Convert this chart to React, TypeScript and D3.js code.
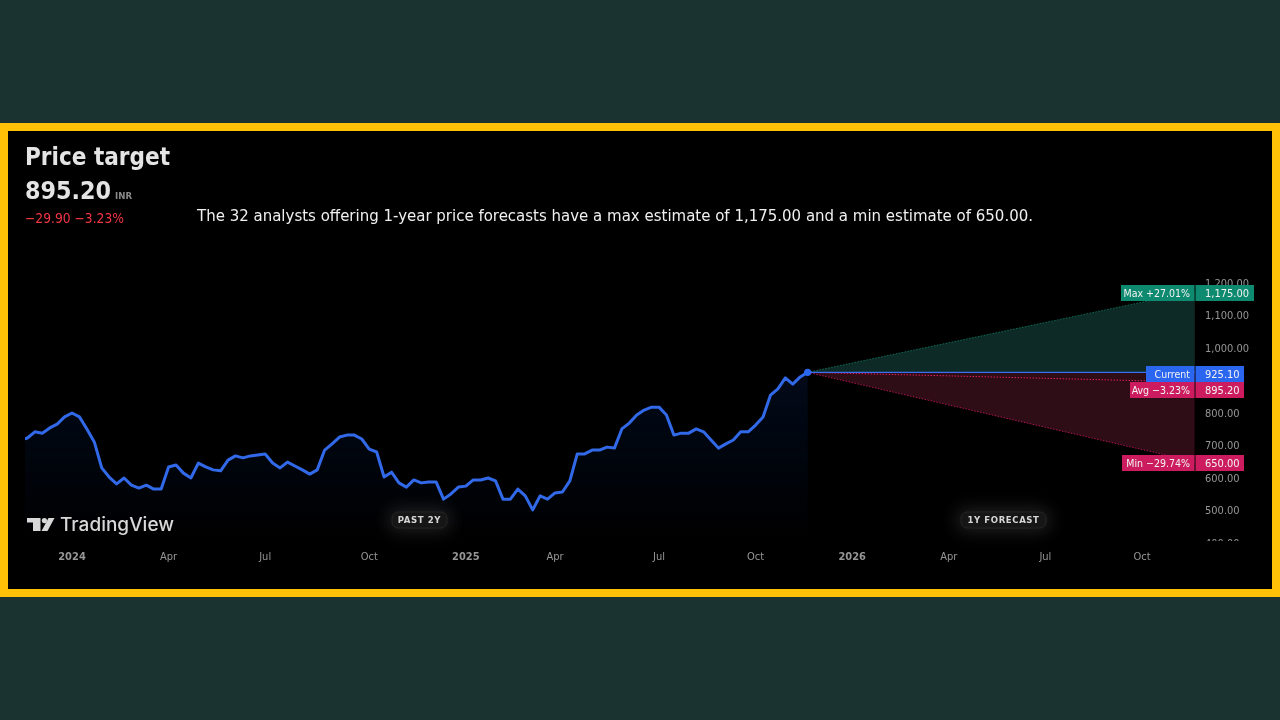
import React from "react";
import * as d3 from "d3";

const priceValues = [
  716, 723, 742, 738, 754, 766, 788, 800, 788, 751, 711, 631, 603, 582, 600, 578, 569, 578, 566, 566, 634, 640, 615, 600, 646, 634, 625, 622, 655, 668, 662, 668, 671, 674,
  646, 631, 649, 637, 625, 612, 625, 686, 705, 726, 732, 732, 720, 689, 680, 603, 618, 585, 572, 594, 585, 588, 588, 535, 551, 572, 575, 594, 594, 600, 591, 535, 535, 566, 545,
  502, 545, 535, 554, 557, 591, 674, 674, 686, 686, 695, 692, 751, 769, 794, 809, 818, 818, 794, 732, 738, 738, 751, 742, 717, 692, 705, 717, 742, 742, 763, 788, 855, 874, 908, 889, 911, 925.1,
];
const firstWeek = -1;
const timeLabels = ["2024", "Apr", "Jul", "Oct", "2025", "Apr", "Jul", "Oct", "2026", "Apr", "Jul", "Oct"];
const timeWeeks = [6, 19, 32, 46, 59, 71, 85, 98, 111, 124, 137, 150];
const yearLabels = ["2024", "2025", "2026"];
const priceTicks = [1200, 1100, 1000, 800, 700, 600, 500, 400];
const currentPrice = 925.1;
const maxTarget = 1175;
const avgTarget = 895.2;
const minTarget = 650;
const forecastEndWeek = 157.1;

const UI = "'DejaVu Sans Condensed', 'DejaVu Sans', sans-serif";
const fmt = d3.format(",.2f");

export default function App() {
  const x = d3.scaleLinear().domain([6, 150]).range([72, 1142]);
  const y = d3.scaleLinear().domain([400, 1200]).range([543, 283]);
  const lastWeek = firstWeek + priceValues.length - 1;
  const line = d3.line<number>().x((_, i) => x(firstWeek + i)).y((d) => y(d));
  const area = d3.area<number>().x((_, i) => x(firstWeek + i)).y0(541).y1((d) => y(d));
  const tri = d3.line<[number, number]>().x((d) => x(d[0])).y((d) => y(d[1]));
  const cone = (target: number) =>
    tri([[lastWeek, currentPrice], [forecastEndWeek, target], [forecastEndWeek, currentPrice]]) + "Z";
  const ray = (target: number) => tri([[lastWeek, currentPrice], [forecastEndWeek, target]]) || "";

  const tags = [
    { label: "Max +27.01%", value: fmt(maxTarget), c: "#0d8a6f", top: 285, left: 1121, right: 1254 },
    { label: "Current", value: fmt(currentPrice), c: "#2c66f0", top: 366, left: 1146, right: 1244 },
    { label: "Avg −3.23%", value: fmt(avgTarget), c: "#cc1f5e", top: 382, left: 1130, right: 1244 },
    { label: "Min −29.74%", value: fmt(minTarget), c: "#cc1f5e", top: 455, left: 1122, right: 1244 },
  ];
  const badges = [
    { t: "PAST 2Y", x0: 392, x1: 447 },
    { t: "1Y FORECAST", x0: 961, x1: 1046 },
  ];

  return (
    <svg width={1280} height={720} style={{ position: "fixed", left: 0, top: 0, display: "block" }}>
      <defs>
        <linearGradient id="areaFill" x1="0" y1="0" x2="0" y2="1">
          <stop offset="0" stopColor="#2962ff" stopOpacity={0.1} />
          <stop offset="1" stopColor="#2962ff" stopOpacity={0} />
        </linearGradient>
        <clipPath id="axisClip"><rect x={1196} y={279} width={70} height={262} /></clipPath>
        <clipPath id="plotClip"><rect x={25} y={131} width={1170} height={420} /></clipPath>
        <filter id="glow" x="-50%" y="-150%" width="200%" height="400%"><feGaussianBlur stdDeviation={9} /></filter>
        <filter id="soft" x="-5%" y="-5%" width="110%" height="110%"><feGaussianBlur stdDeviation={0.45} /></filter>
      </defs>

      <rect width={1280} height={720} fill="#1a3330" />
      <rect x={0} y={123} width={1280} height={474} fill="#ffc107" />
      <rect x={8} y={131} width={1264} height={458} fill="#000000" />

      <g filter="url(#soft)">
        <text x={25} y={165} fontFamily={UI} fontSize={25} fontWeight={700} fill="#e4e4e4" textLength={145} lengthAdjust="spacingAndGlyphs">Price target</text>
        <text x={25} y={199} fontFamily={UI} fontSize={25} fontWeight={700} fill="#e4e4e4" textLength={86} lengthAdjust="spacingAndGlyphs">895.20</text>
        <text x={115} y={199} fontFamily={UI} fontSize={9} fontWeight={700} fill="#8a8a8a" textLength={17} lengthAdjust="spacingAndGlyphs">INR</text>
        <text x={25} y={223} fontFamily={UI} fontSize={14} fill="#f23645" textLength={99} lengthAdjust="spacingAndGlyphs">−29.90  −3.23%</text>
        <text x={197} y={220.5} fontFamily={UI} fontSize={16} fill="#f0f0f0" textLength={836} lengthAdjust="spacingAndGlyphs">The 32 analysts offering 1-year price forecasts have a max estimate of 1,175.00 and a min estimate of 650.00.</text>

        <g clipPath="url(#plotClip)">
          <path d={area(priceValues) || ""} fill="url(#areaFill)" />
          <path d={cone(maxTarget)} fill="#0b2b25" />
          <path d={cone(minTarget)} fill="#2e0716" />
          <path d={ray(maxTarget)} fill="none" stroke="#0d8a6f" strokeOpacity={0.7} strokeWidth={1} strokeDasharray="1.5 1.5" />
          <path d={ray(minTarget)} fill="none" stroke="#cc1f5e" strokeOpacity={0.8} strokeWidth={1} strokeDasharray="1.5 1.5" />
          <path d={ray(avgTarget)} fill="none" stroke="#e0245e" strokeWidth={1} strokeDasharray="1.5 1.5" />
          <path d={ray(currentPrice)} fill="none" stroke="#3a6ef0" strokeWidth={1.3} />
          <path d={line(priceValues) || ""} fill="none" stroke="#3069e8" strokeWidth={3} strokeLinejoin="round" strokeLinecap="round" />
          <circle cx={x(lastWeek)} cy={y(currentPrice)} r={3.6} fill="#2c66f0" />
        </g>

        <g clipPath="url(#axisClip)">
          {priceTicks.map((t) => (
            <text key={t} x={1205} y={y(t)} dy="0.36em" fontFamily={UI} fontSize={11} fill="#969696">{fmt(t)}</text>
          ))}
        </g>

        {tags.map((g) => (
          <g key={g.label}>
            <rect x={g.left} y={g.top} width={1194.5 - g.left} height={16} fill={g.c} />
            <rect x={1195.5} y={g.top} width={g.right - 1195.5} height={16} fill={g.c} />
            <text x={1190} y={g.top + 8} dy="0.36em" textAnchor="end" fontFamily={UI} fontSize={10.5} fill="#f2f2f2">{g.label}</text>
            <text x={1205} y={g.top + 8} dy="0.36em" fontFamily={UI} fontSize={11} fill="#f2f2f2">{g.value}</text>
          </g>
        ))}

        {timeLabels.map((t, i) => (
          <text key={i} x={x(timeWeeks[i])} y={556.5} dy="0.36em" textAnchor="middle" fontFamily={UI} fontSize={11} fontWeight={yearLabels.includes(t) ? 700 : 400} fill="#969696">{t}</text>
        ))}

        {badges.map((b) => (
          <g key={b.t}>
            <rect x={b.x0 - 4} y={509} width={b.x1 - b.x0 + 8} height={22} rx={8} fill="#ffffff" opacity={0.13} filter="url(#glow)" />
            <rect x={b.x0} y={512} width={b.x1 - b.x0} height={16} rx={6} fill="#181818" stroke="#2a2a2a" strokeWidth={0.8} />
            <text x={(b.x0 + b.x1) / 2} y={519.7} dy="0.36em" textAnchor="middle" fontFamily={UI} fontSize={9.5} fontWeight={700} fill="#d6d6d6" letterSpacing={0.6}>{b.t}</text>
          </g>
        ))}

        <g fill="#d8d8d8">
          <path d="M27 518H40.5V531H33V522.5H27Z" />
          <circle cx={44.4} cy={520.6} r={2.6} />
          <path d="M48.5 518H54.5L47.5 531H41.5Z" />
        </g>
        <text x={60} y={531} fontFamily="Inter, sans-serif" fontSize={18.5} fontWeight={500} fill="#d8d8d8" textLength={114} lengthAdjust="spacingAndGlyphs">TradingView</text>
      </g>
    </svg>
  );
}
